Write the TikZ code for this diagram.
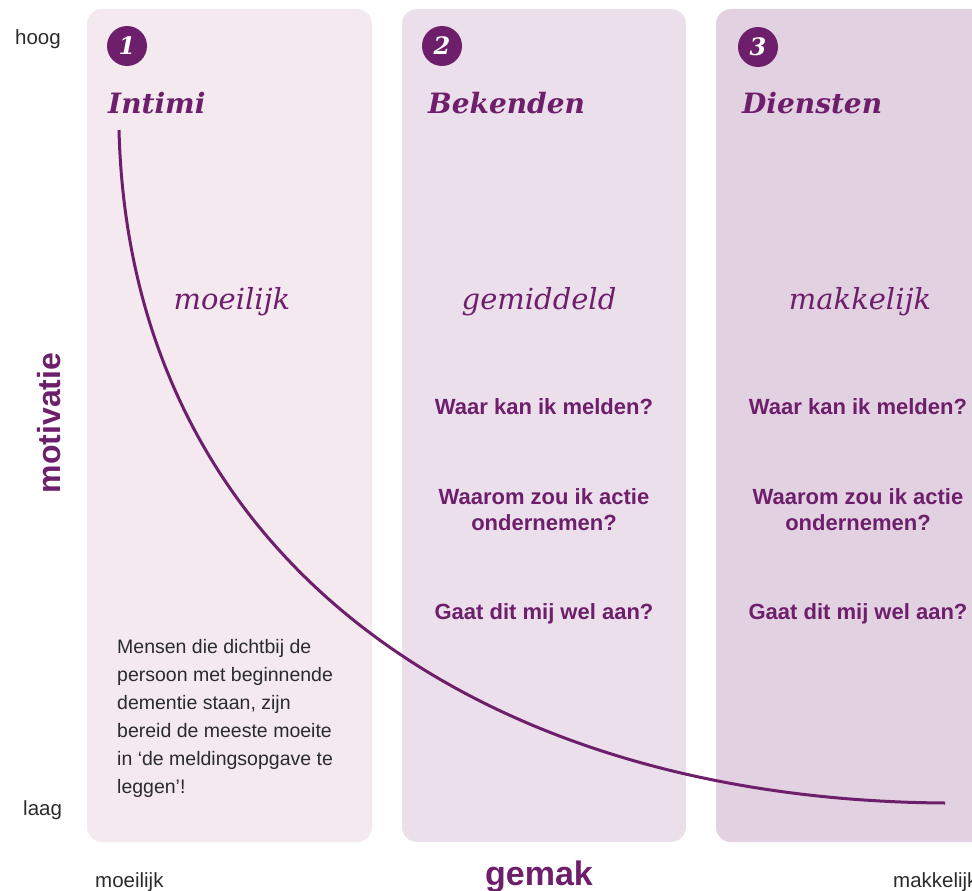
\documentclass[tikz,border=0pt]{standalone}
\usepackage{fontspec}
\setmainfont{Liberation Sans}
\newfontfamily\slabfont{DejaVu Serif}
\usepackage{xcolor}
\usepackage{tikz}

\definecolor{paars}{HTML}{6D1F6B}
\definecolor{vlakeen}{HTML}{F3E9EF}
\definecolor{vlaktwee}{HTML}{ECDFEC}
\definecolor{vlakdrie}{HTML}{E2D1E1}
\definecolor{tekst}{HTML}{2B2B2B}

\begin{document}
\begin{tikzpicture}[x=1pt,y=-1pt,
	vlak/.style={rounded corners=15pt},
	as/.style={font=\fontsize{20.5}{24}\selectfont, text=tekst, inner sep=0pt, anchor=base west},
	nummer/.style={circle, fill=paars, minimum size=40pt, inner sep=0pt, text=white,
		font=\slabfont\bfseries\itshape\fontsize{24}{24}\selectfont},
	kop/.style={font=\slabfont\bfseries\itshape\fontsize{28}{32}\selectfont, text=paars, inner sep=0pt, anchor=base west},
	gemak/.style={font=\slabfont\itshape\fontsize{29}{32}\selectfont, text=paars, inner sep=0pt},
	vraag/.style={font=\bfseries\fontsize{22}{26}\selectfont, text=paars, inner sep=0pt, align=center}
	]
	\newcommand\vlakboven{9}
	\newcommand\vlakonder{842}
	
	\clip (0,0) rectangle (972,891);
	
	\fill[vlakeen, vlak] (87,\vlakboven) rectangle (372,\vlakonder);
	\fill[vlaktwee, vlak] (402,\vlakboven) rectangle (686,\vlakonder);
	\fill[vlakdrie, vlak] (716,\vlakboven) rectangle (1001,\vlakonder);
	
	% as-labels
	\node[as] (hoog) at (15,45) {hoog};
	\node[as] (laag) at (23,815) {laag};
	\node[as] (moeilijk) at (95,887) {moeilijk};
	\node[as] (makkelijk) at (893,887) {makkelijk};
	\node[rotate=90, anchor=base, inner sep=0pt, text=paars,
		font=\bfseries\fontsize{32}{36}\selectfont] (motivatie) at (60,423) {motivatie};
	\node[anchor=base, inner sep=0pt, text=paars,
		font=\bfseries\fontsize{34}{36}\selectfont] (gemak) at (539,885) {gemak};
	
	\node[nummer] (num1) at (127,46) {1};
	\node[nummer] (num2) at (442,46) {2};
	\node[nummer] (num3) at (758,47) {3};
	
	\node[kop] (kop1) at (108,113) {Intimi};
	\node[kop] (kop2) at (428,113) {Bekenden};
	\node[kop] (kop3) at (742,113) {Diensten};
	
	\node[gemak] (gemak1) at (232,302) {moeilijk};
	\node[gemak] (gemak2) at (539,302) {gemiddeld};
	\node[gemak] (gemak3) at (860,302) {makkelijk};
	
	\node[vraag] (waar2) at (544,407) {Waar kan ik melden?};
	\node[vraag] (waarom2) at (544,510) {Waarom zou ik actie\\ondernemen?};
	\node[vraag] (gaat2) at (544,614) {Gaat dit mij wel aan?};
	\node[vraag] (waar3) at (858,407) {Waar kan ik melden?};
	\node[vraag] (waarom3) at (858,510) {Waarom zou ik actie\\ondernemen?};
	\node[vraag] (gaat3) at (858,614) {Gaat dit mij wel aan?};
	
	\node[anchor=north west, inner sep=0pt, align=left, text=tekst,
		font=\fontsize{19.5}{28}\selectfont] (uitleg) at (117,639)
		{Mensen die dichtbij de\\persoon met beginnende\\dementie staan, zijn\\bereid de meeste moeite\\in ‘de meldingsopgave te\\leggen’!};
	
	% curve
	\coordinate (start) at (119,130);
	\coordinate (eind) at (945,803);
	\draw[paars, line width=3pt] (start) .. controls (130,560) and (480,800) .. (eind);
\end{tikzpicture}
\end{document}
